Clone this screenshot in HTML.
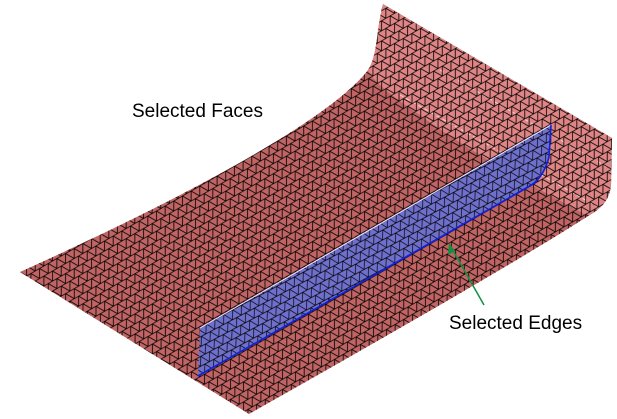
<!DOCTYPE html>
<html><head><style>
html,body{margin:0;padding:0;background:#fff;width:617px;height:419px;overflow:hidden}
svg{display:block}
text{font-family:"Liberation Sans",sans-serif;font-size:19px;fill:#000}
</style></head><body>
<svg width="617" height="419" viewBox="0 0 617 419" xmlns="http://www.w3.org/2000/svg">
<defs>
<pattern id="mesh" width="10" height="8.7" patternUnits="userSpaceOnUse" patternTransform="rotate(-30)">
<path d="M0 0H10M0 8.7H10M0 0L5 8.7L10 0M-5 8.7L0 0M5 8.7L10 0" stroke="#000" stroke-width="0.8" fill="none"/>
</pattern>
<pattern id="mesh2" width="10" height="8.7" patternUnits="userSpaceOnUse" patternTransform="rotate(-28)">
<path d="M0 0H10M0 8.7H10M0 0L5 8.7L10 0M-5 8.7L0 0" stroke="#000" stroke-width="0.7" fill="none"/>
</pattern>
<clipPath id="surf">
<path d="M383 4 C376 30 378 55 368 70 C330 120 180 200 20 272 L249 414 C380 340 520 260 593 213 C606 205 610 195 611 185 L612 138 Z"/>
</clipPath>
</defs>
<g clip-path="url(#surf)">
<rect width="617" height="419" fill="#c06464"/>
<path d="M383 4 L612 138 L612 230 C570 205 480 160 420 115 C390 95 372 80 368 70 Z" fill="#e08585"/>
<path d="M440 70 L612 170 M400 95 L612 215" stroke="#f5d0d0" stroke-width="1" stroke-dasharray="4 3"/>
<rect width="617" height="419" fill="url(#mesh)"/>
</g>
<path d="M200 328 L551 125 L549 157 C545 172 538 182 528 187 L198 376 Z" fill="#6e70cc"/>
<path d="M200 328 L551 125 L549 157 C545 172 538 182 528 187 L198 376 Z" fill="url(#mesh2)"/>
<path d="M200 328 L551 125" stroke="#e8e8ff" stroke-width="1"/>
<path d="M198 376 L528 187 C538 182 545 172 549 157 L551 125" stroke="#1020e0" stroke-width="1.6" fill="none"/>
<line x1="484" y1="305" x2="451" y2="247" stroke="#109040" stroke-width="1.5"/>
<path d="M449 243 L448 255 L455 251 Z" fill="#109040"/>
<text x="132" y="117">Selected Faces</text>
<text x="449" y="329">Selected Edges</text>
</svg>
</body></html>
